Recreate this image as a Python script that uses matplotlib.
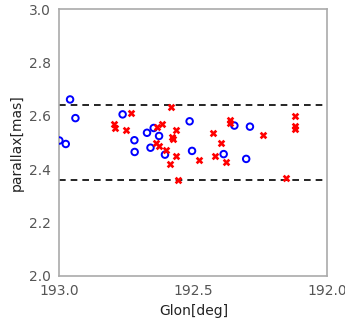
import matplotlib
matplotlib.use("Agg")
import matplotlib.pyplot as plt

blue_lon = [193.0, 192.976, 192.960, 192.940, 192.764, 192.720, 192.719, 192.673, 192.660,
            192.648, 192.628, 192.606, 192.514, 192.505, 192.387, 192.347, 192.303, 192.289]
blue_par = [2.508, 2.495, 2.662, 2.592, 2.606, 2.509, 2.465, 2.537, 2.481,
            2.555, 2.525, 2.455, 2.580, 2.469, 2.457, 2.564, 2.439, 2.560]

red_lon = [192.797, 192.791, 192.751, 192.733, 192.639, 192.637, 192.629, 192.616, 192.603,
           192.586, 192.582, 192.578, 192.577, 192.566, 192.566, 192.557, 192.479, 192.425,
           192.420, 192.398, 192.379, 192.363, 192.363, 192.240, 192.153, 192.122, 192.122, 192.122]
red_par = [2.571, 2.555, 2.549, 2.610, 2.500, 2.560, 2.487, 2.571, 2.474,
           2.421, 2.634, 2.520, 2.514, 2.547, 2.451, 2.360, 2.436, 2.536,
           2.449, 2.497, 2.427, 2.585, 2.575, 2.530, 2.366, 2.599, 2.561, 2.552]

hlines = [2.64, 2.36]
xlim = (193.0, 192.0)
ylim = (2.0, 3.0)
xticks = [193.0, 192.5, 192.0]
yticks = [2.0, 2.2, 2.4, 2.6, 2.8, 3.0]

fig = plt.figure(figsize=(3.45, 3.22), dpi=100)
ax = fig.add_axes([0.172, 0.143, 0.777, 0.828])

ax.scatter(blue_lon, blue_par, s=22, facecolors='none', edgecolors='blue', linewidths=1.4, zorder=3, clip_on=True)
ax.scatter(red_lon, red_par, s=30, marker='X', color='red', linewidths=0, zorder=3)
for h in hlines:
    ax.axhline(h, color='black', linestyle='--', linewidth=1.2, dashes=(4, 3))

ax.set_xlim(*xlim)
ax.set_ylim(*ylim)
ax.set_xticks(xticks)
ax.set_xticklabels([f"{t:.1f}" for t in xticks])
ax.set_yticks(yticks)
ax.set_yticklabels([f"{t:.1f}" for t in yticks])
ax.tick_params(length=0, labelsize=10, colors='#555555', pad=6)
for sp in ax.spines.values():
    sp.set_color('#aaaaaa')
    sp.set_linewidth(1.2)
ax.set_xlabel("Glon[deg]", fontsize=10, color='#222222')
ax.set_ylabel("parallax[mas]", fontsize=10, color='#222222')

fig.savefig("out.png", dpi=100)
